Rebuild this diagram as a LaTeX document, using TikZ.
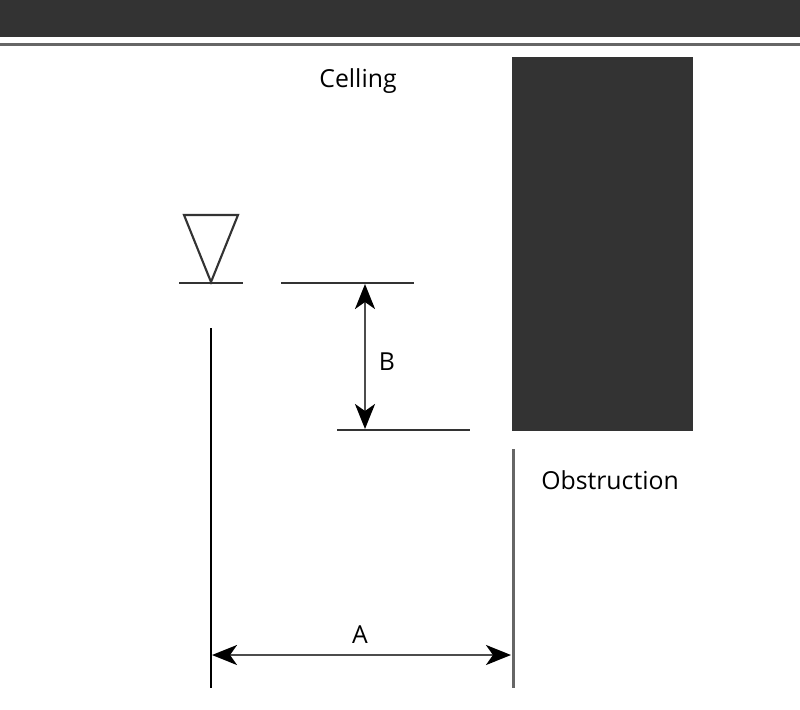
\documentclass[tikz,border=0pt]{standalone}
\usepackage{fontspec}
\setmainfont{Open Sans}
\usetikzlibrary{arrows.meta}
\definecolor{darkfill}{HTML}{333333}
\definecolor{greyline}{HTML}{666666}
\tikzset{
	thinline/.style={line width=0.6pt, color=black!80},
	greythick/.style={line width=0.85pt, color=greyline},
	dimarrow/.style={{Stealth[length=0.25cm,width=0.2cm,inset=0.07cm,black]}-{Stealth[length=0.25cm,width=0.2cm,inset=0.07cm,black]}, line width=0.7pt, color=black!70},
	lbl/.style={inner sep=0, font=\fontsize{7.05}{9}\selectfont, color=black}
}
\begin{document}
\begin{tikzpicture}[x=0.01cm, y=-0.01cm]
	\useasboundingbox (0,0) rectangle (800,709);
	\fill[darkfill] (0,0) rectangle (800,37);
	\draw[greyline, line width=0.8pt] (0,44.5) -- (800,44.5);
	\fill[darkfill] (512,57) rectangle (693,431);
	\draw[thinline, line join=miter] (184,215) -- (238,215) -- (211,282) -- cycle;
	% levels
	\coordinate (t1) at (179,283);
	\coordinate (t2) at (243,283);
	\coordinate (u1) at (281,283);
	\coordinate (u2) at (414,283);
	\coordinate (l1) at (337,430);
	\coordinate (l2) at (470,430);
	\draw[thinline] (t1) -- (t2);
	\draw[thinline] (u1) -- (u2);
	\draw[thinline] (l1) -- (l2);
	% verticals
	\coordinate (va) at (211,328);
	\coordinate (vb) at (211,688);
	\coordinate (wa) at (513,449);
	\coordinate (wb) at (513,688);
	\draw[thinline, color=black] (va) -- (vb);
	\draw[greythick] (wa) -- (wb);
	% dimensions
	\coordinate (ba) at (365,284);
	\coordinate (bb) at (365,429);
	\coordinate (aa) at (212,655);
	\coordinate (ab) at (511,655);
	\draw[dimarrow] (ba) -- (bb);
	\draw[dimarrow] (aa) -- (ab);
	\node[lbl] (celling) at (358,81) {Celling};
	\node[lbl] (obstruction) at (610,480) {Obstruction};
	\node[lbl] (labelB) at (387,362) {B};
	\node[lbl] (labelA) at (360,635) {A};
\end{tikzpicture}
\end{document}
